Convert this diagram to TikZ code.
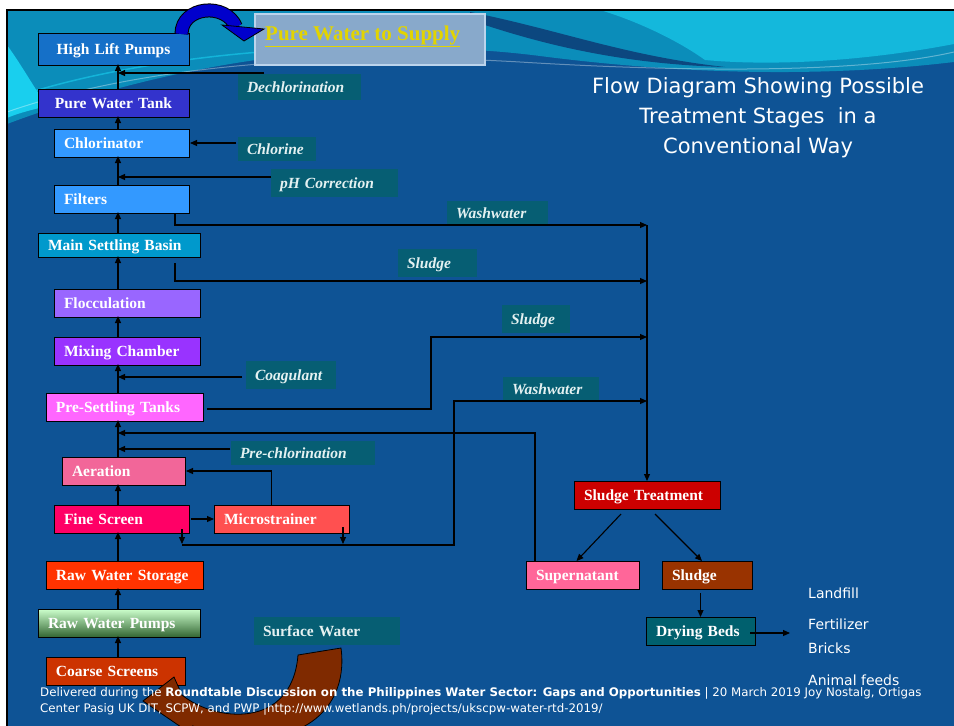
\documentclass[tikz,border=0pt]{standalone}
\usepackage{fontspec}
\setmainfont{Liberation Serif}
\newfontfamily\slidesans{DejaVu Sans}
\usepackage{xcolor}
\definecolor{slideblue}{HTML}{0E5395}
\definecolor{swoopteal}{HTML}{0B8DBA}
\definecolor{swoopcyan}{HTML}{19CFEE}
\definecolor{tagteal}{HTML}{065E73}
\definecolor{tagtext}{HTML}{E4F1F1}
\definecolor{arrowblue}{HTML}{0000CC}
\definecolor{surfbrown}{HTML}{7F2A00}
\definecolor{supplyfill}{HTML}{88A9CB}
\definecolor{supplyrim}{HTML}{BCD4EC}
\definecolor{supplytext}{HTML}{E2D400}
\definecolor{hlpblue}{HTML}{1570C8}
\definecolor{tankindigo}{HTML}{3333CC}
\definecolor{skyblue}{HTML}{3399FF}
\definecolor{basincyan}{HTML}{0099CC}
\definecolor{floclilac}{HTML}{9966FF}
\definecolor{mixviolet}{HTML}{9933FF}
\definecolor{presetpink}{HTML}{FF66FF}
\definecolor{aerrose}{HTML}{F26699}
\definecolor{finepink}{HTML}{FF0066}
\definecolor{microred}{HTML}{FF5050}
\definecolor{storeorange}{HTML}{FF3300}
\definecolor{coarserust}{HTML}{CC3300}
\definecolor{sludgered}{HTML}{CC0000}
\definecolor{superpink}{HTML}{FF6699}
\definecolor{sludgebrown}{HTML}{993300}
\definecolor{bedteal}{HTML}{00606E}
\definecolor{pumptop}{HTML}{CCFFCC}
\definecolor{pumpbottom}{HTML}{336633}
\usepackage{tikz}
\usetikzlibrary{arrows.meta,calc}

\newcommand{\stagefont}{\fontsize{15.5}{18}\selectfont\bfseries}
\newcommand{\feedfont}{\fontsize{15.5}{18}\selectfont\bfseries\itshape}
\newcommand{\supplyfont}{\fontsize{21}{24}\selectfont\bfseries}
\newcommand{\slidetitlefont}{\slidesans\fontsize{21}{26}\selectfont}
\newcommand{\usesfont}{\slidesans\fontsize{14}{17}\selectfont}
\newcommand{\creditfont}{\slidesans\fontsize{11.8}{16}\selectfont}

\tikzset{
  stage/.style={draw=black, line width=0.9pt, text=white, font=\stagefont,
    inner xsep=10pt, inner ysep=0pt, outer sep=0pt, anchor=west,
    text height=11pt, text depth=0pt},
  feedtag/.style={fill=tagteal, text=tagtext, font=\feedfont,
    inner xsep=9pt, inner ysep=0pt, outer sep=0pt, anchor=west, align=left,
    text height=11pt, text depth=0pt},
  flowarrow/.style={draw=black, line width=1.1pt, -{Triangle[length=7pt,width=6pt]}},
}

\begin{document}
\begin{tikzpicture}[x=1pt,y=-1pt]
  \useasboundingbox (0,0) rectangle (954,726);
  \clip (0,0) rectangle (954,726);
  % Slide background
  \fill[white] (0,0) rectangle (954,726);
  \fill[slideblue] (7,10) rectangle (954,726);
  \fill[swoopteal] (7,10) -- (954,10) -- (954,62) .. controls (820,78) and (680,74) .. (540,56)
    .. controls (400,38) and (210,48) .. (7,124) -- cycle;
  \fill[swoopcyan] (7,45) .. controls (25,70) and (38,95) .. (48,106)
    .. controls (30,110) and (16,114) .. (7,118) -- cycle;
  \fill[swoopcyan!65!swoopteal] (600,10) -- (954,10) -- (954,44) .. controls (860,62) and (770,66) .. (705,60)
    .. controls (680,42) and (640,22) .. (600,10) -- cycle;
  \fill[slideblue!85!black] (470,12) .. controls (560,30) and (625,56) .. (725,67)
    .. controls (620,64) and (540,44) .. (470,20) -- cycle;
  \draw[white, opacity=0.35, line width=1pt] (7,112) .. controls (150,62) and (350,52) .. (520,62)
    .. controls (650,70) and (850,76) .. (954,52);
  \draw[swoopcyan, opacity=0.6, line width=1.5pt] (7,100) .. controls (120,60) and (300,40) .. (480,48);
  % Frame
  \draw[black, line width=2.5pt] (7,726) -- (7,10) -- (954,10);

  % Title and end uses
  \foreach \ttl/\y [count=\i] in {Flow Diagram Showing Possible/93, Treatment Stages~ in a/123, Conventional Way/153} {
    \node[anchor=base, font=\slidetitlefont, text=white, inner sep=0pt] (title\i) at (758,\y) {\ttl};
  }
  \foreach \txt/\y [count=\i] in {Landfill/598, Fertilizer/629, Bricks/653, Animal feeds/685} {
    \node[anchor=base west, font=\usesfont, text=white, inner sep=0pt] (use\i) at (808,\y) {\txt};
  }

  % Supply box
  \node[draw=supplyrim, line width=2pt, fill=supplyfill, minimum width=230pt, minimum height=51pt,
    anchor=north west, inner sep=0pt, outer sep=0pt] (supply) at (255,14) {};
  \node[anchor=base west, font=\supplyfont, text=supplytext, inner sep=0pt] (supplytxt) at (265,40)
    {\underline{Pure Water to Supply}};

  % Treatment stages
  \foreach \name/\x/\y/\w/\h/\col/\al/\txt in {
      hlp/38/49/151/32/hlpblue/center/High Lift Pumps,
      pwt/38/103/151/28/tankindigo/center/Pure Water Tank,
      chl/54/143/135/28/skyblue/left/Chlorinator,
      filt/54/199/135/28/skyblue/left/Filters,
      msb/38/245/162/24/basincyan/left/Main Settling Basin,
      floc/54/303/146/28/floclilac/left/Flocculation,
      mc/54/351/146/28/mixviolet/left/Mixing Chamber,
      pst/46/407/157/28/presetpink/left/Pre-Settling Tanks,
      aer/62/471/123/28/aerrose/left/Aeration,
      fs/54/519/135/28/finepink/left/Fine Screen,
      ms/214/519/135/28/microred/left/Microstrainer,
      rws/46/575/157/28/storeorange/left/Raw Water Storage,
      cs/46/671/139/28/coarserust/left/Coarse Screens,
      st/574/495/146/28/sludgered/left/Sludge Treatment,
      sup/526/575/113/28/superpink/left/Supernatant,
      sl/662/575/90/28/sludgebrown/left/Sludge,
      db/646/631/109/28/bedteal/left/Drying Beds} {
    \pgfmathsetmacro\tw{\w-20}
    \node[stage, fill=\col, minimum height=\h pt, text width=\tw pt, align=\al] (\name) at (\x,\y) {\txt};
  }
  \node[stage, top color=pumptop, bottom color=pumpbottom, minimum height=28pt, text width=142pt,
    align=left] (rwp) at (38,623) {Raw Water Pumps};

  % Chemical and by-product labels
  \foreach \name/\x/\y/\w/\h/\txt in {
      dechl/238/87/123/26/Dechlorination,
      chlo/238/149/78/24/Chlorine,
      phc/271/183/127/28/pH Correction,
      washA/447/213/101/24/Washwater,
      sludgeA/398/263/79/28/Sludge,
      sludgeB/502/319/68/28/Sludge,
      washB/503/389/96/24/Washwater,
      coag/246/375/90/28/Coagulant,
      prechl/231/453/144/24/Pre-chlorination} {
    \pgfmathsetmacro\tw{\w-18}
    \node[feedtag, minimum height=\h pt, text width=\tw pt] (\name) at (\x,\y) {\txt};
  }
  \node[feedtag, font=\stagefont, minimum height=28pt, text width=128pt] (surf) at (254,631) {Surface Water};

  % Main treatment line
  \coordinate (trunk) at (118,0);
  \foreach \a/\b in {cs/rwp, rwp/rws, rws/fs, fs/aer, aer/pst, pst/mc, mc/floc, floc/msb, msb/filt, filt/chl, chl/pwt, pwt/hlp} {
    \draw[flowarrow, shorten >=-1pt] (\a.north -| trunk) -- (\b.south -| trunk);
  }

  % Chemical dosing
  \coordinate (dechlin) at (264,73);
  \draw[flowarrow] (dechlin) -- (dechlin -| trunk);
  \draw[flowarrow] ([xshift=-2pt]chlo.west |- chl.east) -- ([xshift=1pt]chl.east);
  \coordinate (phin) at (271,177);
  \draw[flowarrow] (phin) -- (phin -| trunk);
  \coordinate (coagin) at ($(coag.west)+(-4,2)$);
  \draw[flowarrow] (coagin) -- (coagin -| trunk);
  \coordinate (prechlin) at ($(prechl.west)+(-1,-4)$);
  \draw[flowarrow] (prechlin) -- (prechlin -| trunk);

  % Screens and microstrainer
  \draw[flowarrow] ([xshift=2pt]fs.east) -- (ms.west);
  \draw[flowarrow] ([xshift=-10pt]ms.north) |- ([xshift=1pt]aer.east);
  \draw[flowarrow] ([xshift=-7pt,yshift=4pt]fs.south east) -- ++(0,15);
  \draw[flowarrow] ([xshift=-6pt,yshift=6pt]ms.south east) -- ++(0,17);

  % Waste streams to sludge treatment
  \draw[flowarrow] ([xshift=-14pt]filt.south east) |- (st.north |- 0,225);
  \draw[flowarrow] (st.north |- 0,225) -- (st.north);
  \draw[flowarrow] ([xshift=-25pt,yshift=-6pt]msb.south east) |- (st.north |- 0,281);
  \draw[flowarrow] ([xshift=4pt,yshift=-2pt]pst.east) -| (431,337) -- (st.north |- 0,337);
  \coordinate (drain) at ($(fs.south east)+(-7,12)$);
  \draw[flowarrow] (drain) -| (454,401) -- (st.north |- 0,401);

  % Sludge handling
  \draw[flowarrow] ([xshift=-26pt,yshift=-5pt]st.south) -- ([xshift=-6pt]sup.north);
  \draw[flowarrow] ([xshift=8pt,yshift=-5pt]st.south) -- ([xshift=-5pt]sl.north);
  \draw[flowarrow] (db.north |- sl.south) ++(0,4) -- (db.north);
  \draw[flowarrow] ([xshift=-5pt,yshift=-2pt]db.east) -- ++(40,0);
  \draw[flowarrow] ([xshift=9pt]sup.north west) |- (trunk |- 0,433);

  % Curved arrows
  \draw[black, line width=1pt, double=arrowblue, double distance=12pt]
    (181.5,34) .. controls (181.5,6) and (226,2) .. (236,27);
  \filldraw[fill=arrowblue, draw=black, line width=0.8pt] (222,25) -- (264,29) -- (244,41) -- cycle;
  \filldraw[fill=surfbrown, draw=black, line width=0.8pt]
    (298,655) -- (341,648) .. controls (350,715) and (290,760) .. (193,726)
    -- (200,740) -- (143,701) -- (174,677) -- (182,695)
    .. controls (215,722) and (292,730) .. (298,655) -- cycle;

  % Credit line
  \node[anchor=north west, align=left, font=\creditfont, text=white, inner sep=0pt] (credit) at (40,687)
    {Delivered during the \textbf{Roundtable Discussion on the Philippines Water Sector: Gaps and Opportunities} | 20 March 2019 Joy Nostalg, Ortigas\\
     Center Pasig UK DIT, SCPW, and PWP |http://www.wetlands.ph/projects/ukscpw-water-rtd-2019/};
\end{tikzpicture}
\end{document}
